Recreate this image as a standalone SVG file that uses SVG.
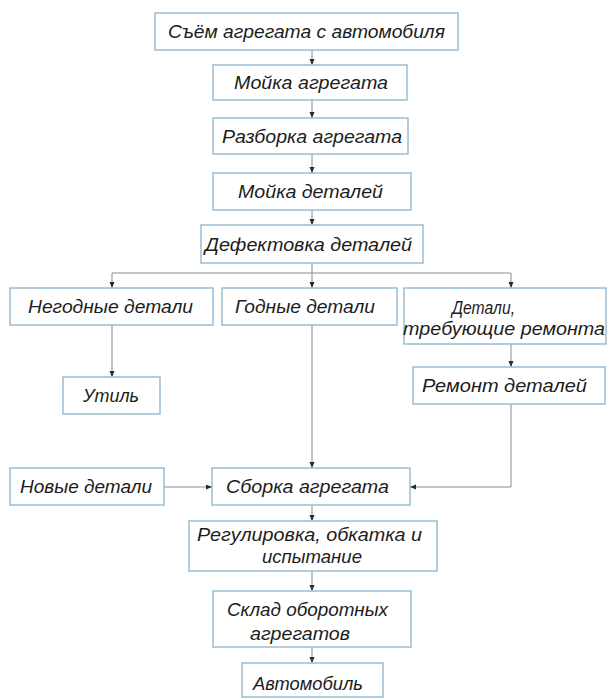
<svg xmlns="http://www.w3.org/2000/svg" width="607" height="698" viewBox="0 0 607 698">
<style>
.box{fill:#ffffff;stroke:#93b8cf;stroke-width:1.4}
.t{font-family:"Liberation Sans","DejaVu Sans",sans-serif;font-style:italic;font-size:18px;fill:#1c1c1c;text-anchor:middle}
.c{fill:none;stroke:#8c8c8c;stroke-width:1}
</style>
<defs>
<marker id="a" markerUnits="userSpaceOnUse" markerWidth="7" markerHeight="6" refX="6" refY="2.5" orient="auto">
<path d="M0,0 L6,2.5 L0,5 z" fill="#2a2a2a"/>
</marker>
</defs>
<rect width="607" height="698" fill="#ffffff"/>
<g id="connectors">
<path class="c" marker-end="url(#a)" d="M312,50 V65"/>
<path class="c" marker-end="url(#a)" d="M312,100 V118"/>
<path class="c" marker-end="url(#a)" d="M312,154 V173"/>
<path class="c" marker-end="url(#a)" d="M312,210 V225"/>
<path class="c" d="M312,263 V273 M112,273 H511"/>
<path class="c" marker-end="url(#a)" d="M112,273 V288"/>
<path class="c" marker-end="url(#a)" d="M312,273 V288"/>
<path class="c" marker-end="url(#a)" d="M511,273 V288"/>
<path class="c" marker-end="url(#a)" d="M112,325 V377"/>
<path class="c" marker-end="url(#a)" d="M312,325 V468"/>
<path class="c" marker-end="url(#a)" d="M511,344 V367"/>
<path class="c" marker-end="url(#a)" d="M511,404 V487 H410"/>
<path class="c" marker-end="url(#a)" d="M164,487 H212"/>
<path class="c" marker-end="url(#a)" d="M312,505 V521"/>
<path class="c" marker-end="url(#a)" d="M312,571 V591"/>
<path class="c" marker-end="url(#a)" d="M312,647 V663"/>
</g>
<g id="n1"><rect class="box" x="155" y="13" width="303" height="37"/><text class="t" x="306.5" y="38" textLength="277" lengthAdjust="spacingAndGlyphs">Съём агрегата с автомобиля</text></g>
<g id="n2"><rect class="box" x="213" y="65" width="194" height="35"/><text class="t" x="311" y="89" textLength="154" lengthAdjust="spacingAndGlyphs">Мойка агрегата</text></g>
<g id="n3"><rect class="box" x="213" y="118" width="195" height="36"/><text class="t" x="312" y="142.5" textLength="180" lengthAdjust="spacingAndGlyphs">Разборка агрегата</text></g>
<g id="n4"><rect class="box" x="213" y="173" width="198" height="37"/><text class="t" x="310.5" y="198" textLength="145" lengthAdjust="spacingAndGlyphs">Мойка деталей</text></g>
<g id="n5"><rect class="box" x="201" y="225" width="222" height="38"/><text class="t" x="308.5" y="250.5" textLength="207" lengthAdjust="spacingAndGlyphs">Дефектовка деталей</text></g>
<g id="n6"><rect class="box" x="10" y="288" width="203" height="37"/><text class="t" x="110.5" y="313" textLength="165" lengthAdjust="spacingAndGlyphs">Негодные детали</text></g>
<g id="n7"><rect class="box" x="222" y="288" width="175" height="37"/><text class="t" x="305" y="313" textLength="140" lengthAdjust="spacingAndGlyphs">Годные детали</text></g>
<g id="n8"><rect class="box" x="404" y="288" width="202" height="56"/><text class="t" x="483.5" y="314" textLength="63" lengthAdjust="spacingAndGlyphs">Детали,</text><text class="t" x="504" y="335" textLength="202" lengthAdjust="spacingAndGlyphs">требующие ремонта</text></g>
<g id="n9"><rect class="box" x="63" y="377" width="97" height="37"/><text class="t" x="111" y="402" textLength="56" lengthAdjust="spacingAndGlyphs">Утиль</text></g>
<g id="n10"><rect class="box" x="413" y="367" width="192" height="37"/><text class="t" x="504.5" y="392" textLength="165" lengthAdjust="spacingAndGlyphs">Ремонт деталей</text></g>
<g id="n11"><rect class="box" x="10" y="468" width="154" height="37"/><text class="t" x="86" y="493" textLength="132" lengthAdjust="spacingAndGlyphs">Новые детали</text></g>
<g id="n12"><rect class="box" x="212" y="468" width="198" height="37"/><text class="t" x="307.5" y="493" textLength="163" lengthAdjust="spacingAndGlyphs">Сборка агрегата</text></g>
<g id="n13"><rect class="box" x="189" y="521" width="248" height="50"/><text class="t" x="309.5" y="541" textLength="225" lengthAdjust="spacingAndGlyphs">Регулировка, обкатка и</text><text class="t" x="312" y="563" textLength="100" lengthAdjust="spacingAndGlyphs">испытание</text></g>
<g id="n14"><rect class="box" x="213" y="591" width="198" height="56"/><text class="t" x="307.5" y="616" textLength="161" lengthAdjust="spacingAndGlyphs">Склад оборотных</text><text class="t" x="300" y="640" textLength="100" lengthAdjust="spacingAndGlyphs">агрегатов</text></g>
<g id="n15"><rect class="box" x="242" y="663" width="141" height="34"/><text class="t" x="308" y="690" textLength="110" lengthAdjust="spacingAndGlyphs">Автомобиль</text></g>
</svg>
